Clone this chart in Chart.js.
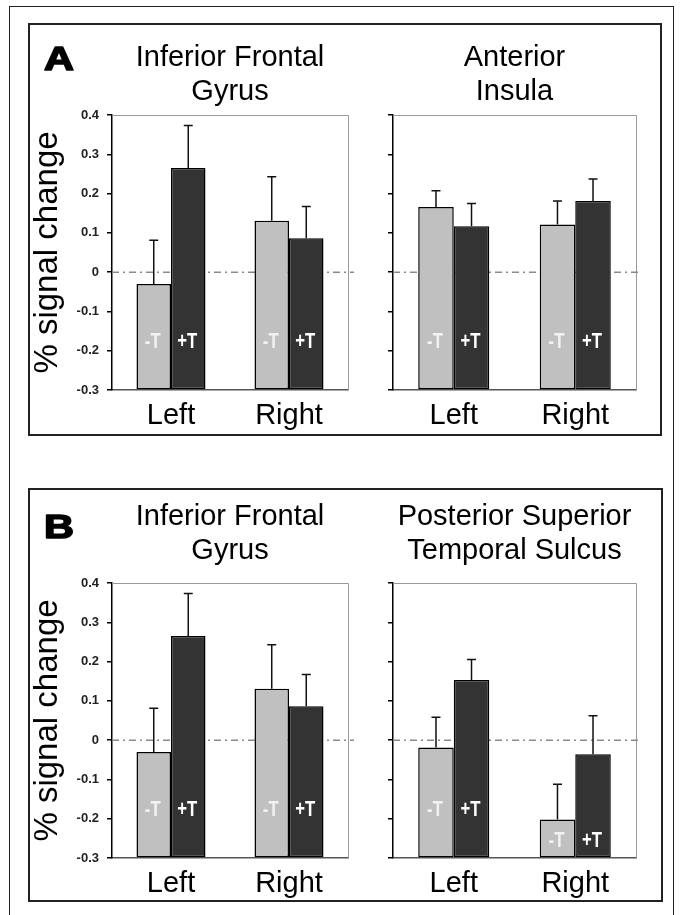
<!DOCTYPE html>
<html>
<head>
<meta charset="utf-8">
<script src="https://cdn.jsdelivr.net/npm/chart.js@4"></script>
<style>
  html, body { margin:0; padding:0; background:#fff; }
  body { width:683px; height:915px; position:relative; overflow:hidden; }
  .box { position:absolute; box-sizing:border-box; }
  canvas { position:absolute; }
</style>
</head>
<body>
<div class="box" style="left:9px; top:6px; width:665px; height:930px; border:1.5px solid #222;"></div>
<div class="box" style="left:28px; top:23px; width:634px; height:413px; border:2px solid #222;"></div>
<div class="box" style="left:28px; top:488px; width:635px; height:414px; border:2px solid #222;"></div>
<canvas id="aLeft"  width="330" height="408" style="left:30px; top:25px;"></canvas>
<canvas id="aRight" width="295" height="408" style="left:362px; top:25px;"></canvas>
<canvas id="bLeft"  width="330" height="408" style="left:30px; top:490px;"></canvas>
<canvas id="bRight" width="295" height="408" style="left:362px; top:490px;"></canvas>
<script>
// ---------------- data ----------------
const categories = ['Left', 'Right'];
const conditions = ['-T', '+T'];
const yTickLabels = ['-0.3', '-0.2', '-0.1', '0', '0.1', '0.2', '0.3', '0.4'];
const yAxisTitle = '% signal change';
const panelLetters = ['A', 'B'];

const titleIFG = ['Inferior Frontal', 'Gyrus'];
const titleInsula = ['Anterior', 'Insula'];
const titleSTS = ['Posterior Superior', 'Temporal Sulcus'];

// Inferior Frontal Gyrus (same in panels A and B)
const ifgMinusT = [-0.030, 0.131];
const ifgPlusT = [0.265, 0.086];
const ifgMinusTErr = [0.111, 0.112];
const ifgPlusTErr = [0.108, 0.081];

// Anterior Insula
const insulaMinusT = [0.166, 0.121];
const insulaPlusT = [0.117, 0.181];
const insulaMinusTErr = [0.041, 0.060];
const insulaPlusTErr = [0.058, 0.056];

// Posterior Superior Temporal Sulcus
const stsMinusT = [-0.019, -0.202];
const stsPlusT = [0.153, -0.036];
const stsMinusTErr = [0.077, 0.090];
const stsPlusTErr = [0.052, 0.098];

// ---------------- styling / drawing ----------------
const FONT = '"Liberation Sans", Arial, Helvetica, sans-serif';
Chart.defaults.font.family = FONT;
Chart.defaults.color = '#000';

const yTickValues = yTickLabels.map(Number);
const yMin = Math.min(...yTickValues);
const yMax = Math.max(...yTickValues);

const zeroLinePlugin = {
  id: 'zeroLine',
  beforeDatasetsDraw(chart) {
    const { ctx, chartArea: a } = chart;
    const y = chart.scales.y;
    // plot frame (top and right)
    ctx.save();
    ctx.strokeStyle = '#9a9a9a';
    ctx.lineWidth = 1;
    ctx.beginPath();
    ctx.moveTo(a.left, a.top + 0.5);
    ctx.lineTo(a.right + 0.5, a.top + 0.5);
    ctx.lineTo(a.right + 0.5, a.bottom);
    ctx.stroke();
    // dash-dot zero line
    const y0 = y.getPixelForValue(0);
    ctx.strokeStyle = '#8a8a8a';
    ctx.lineWidth = 1.5;
    ctx.setLineDash([7, 4, 2, 4]);
    ctx.beginPath();
    ctx.moveTo(a.left, y0);
    ctx.lineTo(a.right + 6, y0);
    ctx.stroke();
    ctx.restore();
  }
};

const errorBarPlugin = {
  id: 'errorBars',
  afterDatasetsDraw(chart) {
    const { ctx } = chart;
    const y = chart.scales.y;
    ctx.save();
    ctx.strokeStyle = '#111';
    ctx.lineWidth = 1.5;
    chart.data.datasets.forEach((ds, i) => {
      const meta = chart.getDatasetMeta(i);
      meta.data.forEach((bar, j) => {
        const top = y.getPixelForValue(ds.data[j] + ds.errors[j]);
        ctx.beginPath();
        ctx.moveTo(bar.x, bar.y);
        ctx.lineTo(bar.x, top);
        ctx.moveTo(bar.x - 4.5, top);
        ctx.lineTo(bar.x + 4.5, top);
        ctx.stroke();
      });
    });
    // condition labels inside bars
    chart.data.datasets.forEach((ds, i) => {
      const meta = chart.getDatasetMeta(i);
      meta.data.forEach((bar, j) => {
        const groupMin = Math.min(...chart.data.datasets.map(d => d.data[j]));
        const v = Math.min(-0.178, groupMin - 0.055);
        const py = y.getPixelForValue(v);
        ctx.save();
        ctx.translate(bar.x - 1, py);
        ctx.scale(0.76, 1);
        ctx.font = 'bold 22px ' + FONT;
        ctx.textAlign = 'center';
        ctx.textBaseline = 'middle';
        ctx.fillStyle = i === 0 ? '#f2f2f2' : '#ffffff';
        ctx.fillText(ds.label, 0, 0);
        ctx.restore();
      });
    });
    ctx.restore();
  }
};

const letterPlugin = {
  id: 'panelLetter',
  afterDraw(chart, args, opts) {
    if (!opts.text) return;
    const { ctx, chartArea: a } = chart;
    ctx.save();
    ctx.translate(a.left - 68, a.top - 45);
    ctx.scale(1.22, 1);
    ctx.font = 'bold 34px ' + FONT;
    ctx.textAlign = 'left';
    ctx.textBaseline = 'alphabetic';
    ctx.fillStyle = '#000';
    ctx.strokeStyle = '#000';
    ctx.lineWidth = 1.6;
    ctx.lineJoin = 'round';
    ctx.fillText(opts.text, 0, 0);
    ctx.strokeText(opts.text, 0, 0);
    ctx.restore();
  }
};

function makeChart(id, g) {
  const ctx = document.getElementById(id);
  return new Chart(ctx, {
    type: 'bar',
    data: {
      labels: categories,
      datasets: [
        { label: conditions[0], data: g.minus, errors: g.minusErr, backgroundColor: '#c0c0c0' },
        { label: conditions[1], data: g.plus, errors: g.plusErr, backgroundColor: '#333333' }
      ].map(d => Object.assign(d, {
        base: yMin,
        borderColor: '#000',
        borderWidth: 1.5,
        borderSkipped: false,
        categoryPercentage: 0.585,
        barPercentage: 1.0
      }))
    },
    options: {
      responsive: false,
      animation: false,
      events: [],
      layout: { padding: { top: 0, left: 0, right: g.padRight, bottom: 0 } },
      plugins: {
        legend: { display: false },
        tooltip: { enabled: false },
        title: {
          display: true,
          text: g.title,
          fullSize: false,
          color: '#000',
          font: { size: 29, weight: 'normal', lineHeight: '34px' },
          padding: { top: g.titleTop, bottom: g.titleBottom }
        },
        panelLetter: { text: g.letter || '' }
      },
      scales: {
        x: {
          grid: { display: false, drawTicks: false },
          border: { display: true, color: '#555', width: 1.5 },
          ticks: { color: '#000', font: { size: 29 }, padding: 9 },
          afterFit: s => { s.height = g.xHeight; }
        },
        y: {
          min: yMin,
          max: yMax,
          afterBuildTicks: s => { s.ticks = yTickValues.map(v => ({ value: v })); },
          grid: { drawOnChartArea: false, drawTicks: true, tickLength: 5, color: '#000', lineWidth: 1.5 },
          border: { display: true, color: '#000', width: 1.5 },
          ticks: {
            color: '#222',
            font: { size: 13, weight: 'bold' },
            padding: 8,
            callback: (v) => {
              if (!g.showLabels) return '';
              const k = yTickValues.findIndex(t => Math.abs(t - v) < 1e-6);
              return k >= 0 ? yTickLabels[k] : '';
            }
          },
          title: {
            display: !!g.showLabels,
            text: yAxisTitle,
            color: '#000',
            font: { size: 33, weight: 'normal', lineHeight: 1.1 },
            padding: { top: 0, bottom: 0 }
          },
          afterFit: s => { s.width = g.yWidth; }
        }
      }
    },
    plugins: [zeroLinePlugin, errorBarPlugin, letterPlugin]
  });
}

makeChart('aLeft', {
  title: titleIFG, minus: ifgMinusT, plus: ifgPlusT, minusErr: ifgMinusTErr, plusErr: ifgPlusTErr,
  showLabels: true, letter: panelLetters[0],
  yWidth: 82, xHeight: 43, padRight: 12, titleTop: 16, titleBottom: 6
});
makeChart('aRight', {
  title: titleInsula, minus: insulaMinusT, plus: insulaPlusT, minusErr: insulaMinusTErr, plusErr: insulaPlusTErr,
  showLabels: false,
  yWidth: 31, xHeight: 43, padRight: 21, titleTop: 16, titleBottom: 6
});
makeChart('bLeft', {
  title: titleIFG, minus: ifgMinusT, plus: ifgPlusT, minusErr: ifgMinusTErr, plusErr: ifgPlusTErr,
  showLabels: true, letter: panelLetters[1],
  yWidth: 82, xHeight: 40, padRight: 12, titleTop: 10, titleBottom: 15
});
makeChart('bRight', {
  title: titleSTS, minus: stsMinusT, plus: stsPlusT, minusErr: stsMinusTErr, plusErr: stsPlusTErr,
  showLabels: false,
  yWidth: 31, xHeight: 40, padRight: 21, titleTop: 10, titleBottom: 15
});
</script>
</body>
</html>
